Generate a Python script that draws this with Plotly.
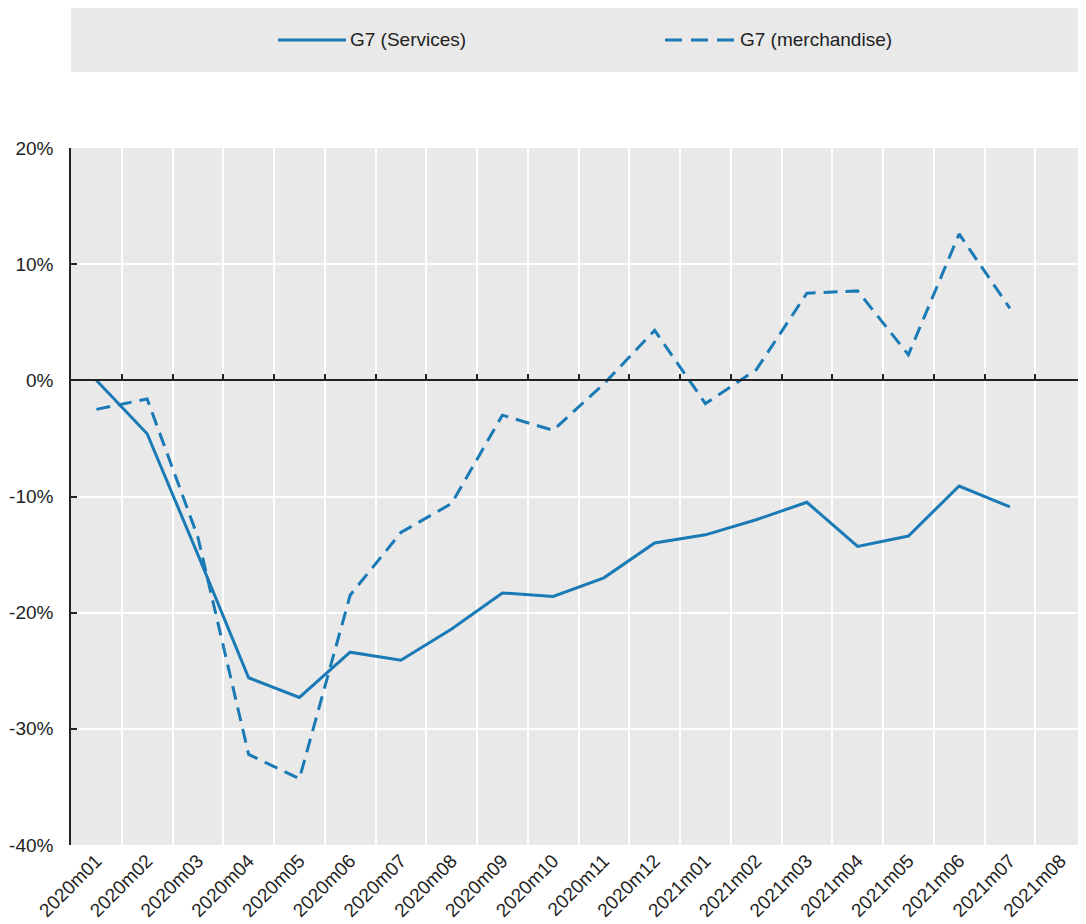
import plotly.graph_objects as go

categories = ["2020m01", "2020m02", "2020m03", "2020m04", "2020m05", "2020m06",
              "2020m07", "2020m08", "2020m09", "2020m10", "2020m11", "2020m12",
              "2021m01", "2021m02", "2021m03", "2021m04", "2021m05", "2021m06",
              "2021m07", "2021m08"]
services = [0.0, -4.6, -15.0, -25.6, -27.3, -23.4, -24.1, -21.4, -18.3, -18.6,
            -17.0, -14.0, -13.3, -12.0, -10.5, -14.3, -13.4, -9.1, -10.9, None]
merchandise = [-2.5, -1.6, -13.5, -32.2, -34.3, -18.5, -13.1, -10.6, -3.0, -4.3,
               -0.3, 4.3, -2.0, 0.9, 7.5, 7.7, 2.2, 12.6, 6.2, None]
ytick_vals = [-40, -30, -20, -10, 0, 10, 20]
ytick_text = ["-40%", "-30%", "-20%", "-10%", "0%", "10%", "20%"]
series_names = ["G7 (Services)", "G7 (merchandise)"]

BLUE = "#1a7ab6"
FONT = "Liberation Sans, Arial, sans-serif"
TXT = "#222222"

fig = go.Figure()
fig.add_trace(go.Scatter(x=categories, y=services, mode="lines", name=series_names[0],
                         line=dict(color=BLUE, width=3), showlegend=False))
fig.add_trace(go.Scatter(x=categories, y=merchandise, mode="lines", name=series_names[1],
                         line=dict(color=BLUE, width=3, dash="14px,8px"), showlegend=False))

n = len(categories)
fig.update_layout(
    width=1078, height=916,
    margin=dict(l=63, r=0, t=140, b=79),
    paper_bgcolor="white",
    plot_bgcolor="#e9e9e9",
    font=dict(family=FONT, color=TXT),
    xaxis=dict(type="category", categoryorder="array", categoryarray=categories,
               range=[-0.5, n - 0.5], tickson="boundaries",
               showgrid=True, gridcolor="white", gridwidth=2,
               ticks="", showline=False, zeroline=False,
               tickangle=-45, tickfont=dict(size=19, family=FONT, color=TXT)),
    xaxis2=dict(overlaying="x", anchor="free", position=40 / 60, range=[-0.5, n - 0.5],
                tickmode="array", tickvals=[i + 0.5 for i in range(n - 1)],
                ticks="inside", ticklen=6, tickwidth=1.5, tickcolor=TXT,
                showticklabels=False, showgrid=False, zeroline=False,
                showline=True, linecolor=TXT, linewidth=1.5),
    yaxis=dict(range=[-40, 20], tickmode="array", tickvals=ytick_vals, ticktext=ytick_text,
               showgrid=True, gridcolor="white", gridwidth=2, zeroline=False,
               showline=True, linecolor=TXT, linewidth=1.5,
               ticks="inside", ticklen=6, tickwidth=1.5, tickcolor=TXT,
               ticklabelstandoff=12,
               tickfont=dict(size=19, family=FONT, color=TXT)),
)
# dummy trace to activate xaxis2
fig.add_trace(go.Scatter(x=[0], y=[None], xaxis="x2", showlegend=False, hoverinfo="skip"))

# Legend box drawn at top (screen-pixel helpers relative to the plot area)
def py(pix):
    return (845 - pix) / 697.0

def px(pix):
    return (pix - 71) / 1015.0

fig.add_shape(type="rect", xref="paper", yref="paper", x0=0, x1=1, y0=py(72), y1=py(7),
              fillcolor="#e9e9e9", line=dict(width=0), layer="below")
fig.add_shape(type="line", xref="paper", yref="paper", x0=px(278), x1=px(346), y0=py(40), y1=py(40),
              line=dict(color=BLUE, width=3))
fig.add_shape(type="line", xref="paper", yref="paper", x0=px(665), x1=px(735), y0=py(40), y1=py(40),
              line=dict(color=BLUE, width=3, dash="17px,9px"))
fig.add_annotation(xref="paper", yref="paper", x=px(348), y=py(40), text=series_names[0],
                   showarrow=False, xanchor="left", yanchor="middle",
                   font=dict(size=19, family=FONT, color=TXT))
fig.add_annotation(xref="paper", yref="paper", x=px(738), y=py(40), text=series_names[1],
                   showarrow=False, xanchor="left", yanchor="middle",
                   font=dict(size=19, family=FONT, color=TXT))

fig.write_html("out.html")
